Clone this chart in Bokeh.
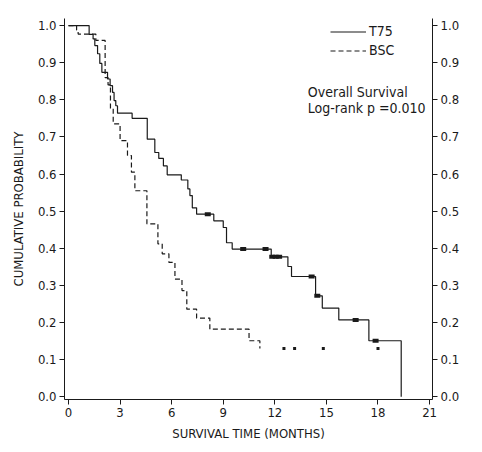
from bokeh.plotting import figure
from bokeh.models import Range1d, LinearAxis, FixedTicker, PrintfTickFormatter, Legend, LegendItem, Label
from bokeh.core.properties import value
from bokeh.embed import file_html
from bokeh.resources import INLINE

# ---- data ----
t75_times = [0, 1.2, 1.43, 1.53, 1.69, 1.82, 1.94, 2.27, 2.42, 2.56, 2.65, 2.75, 2.85, 3.70, 4.58,
             5.02, 5.25, 5.52, 5.74, 6.56, 6.94, 7.06, 7.2, 7.45, 8.45, 9.0, 9.19, 9.52, 11.79,
             12.76, 12.97, 14.37, 14.76, 15.72, 17.47, 19.35]
t75_surv = [1.0, 0.976, 0.964, 0.946, 0.924, 0.898, 0.874, 0.856, 0.838, 0.82, 0.798, 0.784, 0.764,
            0.750, 0.694, 0.658, 0.642, 0.622, 0.598, 0.584, 0.560, 0.542, 0.509, 0.492, 0.474,
            0.456, 0.415, 0.398, 0.377, 0.351, 0.324, 0.272, 0.239, 0.207, 0.151, 0.0]
t75_cens_t = [8.1, 10.16, 11.46, 11.85, 12.05, 12.25, 14.14, 14.47, 16.7, 17.86]
t75_cens_s = [0.492, 0.398, 0.398, 0.377, 0.377, 0.377, 0.324, 0.272, 0.207, 0.151]

bsc_times = [0, 0.47, 0.56, 1.59, 2.13, 2.3, 2.44, 2.6, 3.0, 3.43, 3.66, 3.86, 4.56, 5.2, 5.45,
             5.84, 6.19, 6.6, 6.88, 7.45, 8.22, 10.5, 11.13]
bsc_surv = [1.0, 0.988, 0.977, 0.96, 0.86, 0.84, 0.776, 0.735, 0.69, 0.65, 0.605, 0.555, 0.466,
            0.412, 0.385, 0.362, 0.317, 0.286, 0.236, 0.212, 0.182, 0.151, 0.13]
bsc_cens_t = [12.53, 13.15, 14.82, 18.0]
bsc_cens_s = [0.13, 0.13, 0.13, 0.13]

x_ticks = [0, 3, 6, 9, 12, 15, 18, 21]
y_ticks = [0.0, 0.1, 0.2, 0.3, 0.4, 0.5, 0.6, 0.7, 0.8, 0.9, 1.0]

series_names = ["T75", "BSC"]
x_label = "SURVIVAL TIME (MONTHS)"
y_label = "CUMULATIVE PROBABILITY"
note_lines = ["Overall Survival", "Log-rank p =0.010"]

FONT = "DejaVu Sans Condensed, Liberation Sans, sans-serif"
INK = "#1a1a1a"

p = figure(width=474, height=444, output_backend="svg", toolbar_location=None,
           x_range=Range1d(-0.233, 21.17), y_range=Range1d(-0.0073, 1.019),
           min_border_left=64, min_border_right=42, min_border_top=18, min_border_bottom=45)
p.grid.visible = False
p.outline_line_color = None
p.background_fill_color = "white"
p.border_fill_color = "white"

right = LinearAxis()
p.add_layout(right, "right")

p.xaxis.ticker = FixedTicker(ticks=x_ticks)
p.yaxis.ticker = FixedTicker(ticks=y_ticks)
p.yaxis.formatter = PrintfTickFormatter(format="%.1f")

for ax in [p.xaxis[0], p.yaxis[0], right]:
    ax.major_tick_out = 5
    ax.major_tick_in = 0
    ax.minor_tick_out = 0
    ax.minor_tick_in = 0
    ax.axis_line_color = INK
    ax.major_tick_line_color = INK
    ax.major_label_text_font = FONT
    ax.major_label_text_font_size = "13px"
    ax.major_label_text_color = INK
    ax.major_label_standoff = 3
    ax.axis_label_text_font = FONT
    ax.axis_label_text_font_size = "13px"
    ax.axis_label_text_font_style = "normal"
    ax.axis_label_text_color = INK

p.xaxis.axis_label = x_label
p.xaxis.axis_label_standoff = 6
p.yaxis[0].axis_label = y_label
p.yaxis[0].axis_label_standoff = 9

r1 = p.step(t75_times, t75_surv, mode="after", line_color=INK, line_width=1.2)
r2 = p.step(bsc_times, bsc_surv, mode="after", line_color=INK, line_width=1.2, line_dash="5 3")

p.rect(t75_cens_t, t75_cens_s, width=6, height=4, width_units="screen", height_units="screen",
       fill_color=INK, line_color=None)
p.rect(bsc_cens_t, bsc_cens_s, width=3, height=3, width_units="screen", height_units="screen",
       fill_color=INK, line_color=None)

legend = Legend(items=[LegendItem(label=series_names[0], renderers=[r1]),
                       LegendItem(label=series_names[1], renderers=[r2])],
                location=(266, 341), orientation="vertical",
                border_line_color=None, background_fill_alpha=0,
                label_text_font=FONT, label_text_font_size="14px", label_text_color=INK,
                glyph_width=36, glyph_height=15, label_height=15, label_standoff=3,
                spacing=3, padding=0, margin=0)
p.add_layout(legend)

p.add_layout(Label(x=13.92, y=0.821, text=note_lines[0], text_font=FONT, text_font_size="14px",
                   text_color=INK, text_baseline="alphabetic"))
p.add_layout(Label(x=13.92, y=0.778, text=note_lines[1], text_font=FONT, text_font_size="14px",
                   text_color=INK, text_baseline="alphabetic"))

open("out.html", "w").write(file_html(p, INLINE))
